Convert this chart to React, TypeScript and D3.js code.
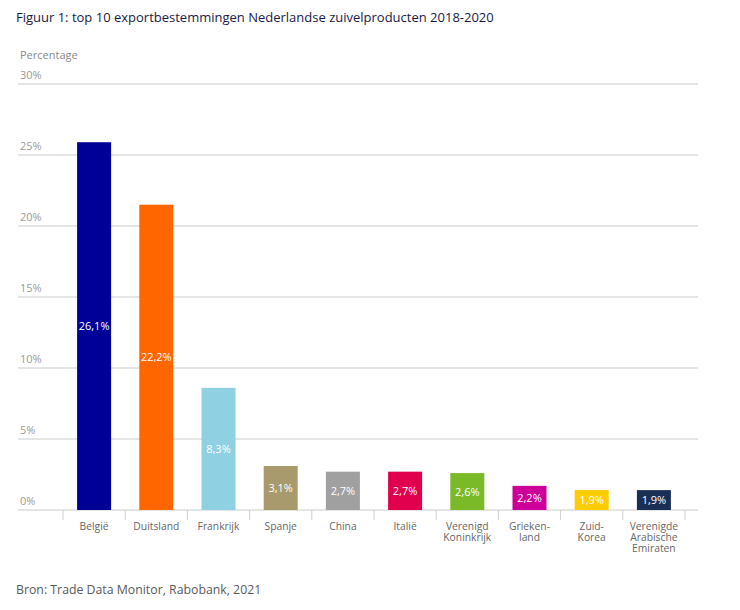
import React from "react";
import * as d3 from "d3";

const categories: string[][] = [
  ["België"],
  ["Duitsland"],
  ["Frankrijk"],
  ["Spanje"],
  ["China"],
  ["Italië"],
  ["Verenigd", "Koninkrijk"],
  ["Grieken-", "land"],
  ["Zuid-", "Korea"],
  ["Verenigde", "Arabische", "Emiraten"],
];
// bar heights as drawn in the picture (percent)
const barValues = [25.9, 21.5, 8.6, 3.1, 2.7, 2.7, 2.6, 1.7, 1.4, 1.4];
// printed value labels
const valueLabels = ["26,1%", "22,2%", "8,3%", "3,1%", "2,7%", "2,7%", "2,6%", "2,2%", "1,9%", "1,9%"];
const colors = ["#000096", "#ff6600", "#8fd0e2", "#a89a6c", "#a0a0a0", "#e0004d", "#7aba28", "#cc0099", "#ffcc00", "#1b2f56"];
const yTicks = [0, 5, 10, 15, 20, 25, 30];

const FONT = "'Open Sans', 'Noto Sans', sans-serif";

export default function App() {
  const W = 740, H = 610;
  const gridX0 = 18, gridX1 = 698;
  const y = d3.scaleLinear().domain([0, 30]).range([510, 84]);
  const x = d3.scaleBand<number>().domain(d3.range(categories.length)).range([63, 685]).paddingInner(0).paddingOuter(0);
  const barW = 34;

  return (
    <div style={{ position: "absolute", left: 0, top: 0 }}>
      <svg width={W} height={H} style={{ display: "block", background: "#fff" }}>
        <text x={16} y={22} fontFamily={FONT} fontSize={13} fill="#1a1a46">
          Figuur 1: top 10 exportbestemmingen Nederlandse zuivelproducten 2018-2020
        </text>
        <text x={20} y={59} fontFamily={FONT} fontSize={11} fill="#8a8a8a">Percentage</text>
        {yTicks.map((t) => (
          <g key={t}>
            <line x1={gridX0} x2={gridX1} y1={y(t)} y2={y(t)} stroke="#dcdcdc" strokeWidth={1.3} />
            <text x={20} y={y(t) - 5} fontFamily={FONT} fontSize={11} fill="#9a9a9a">{t}%</text>
          </g>
        ))}
        {d3.range(categories.length + 1).map((i) => {
          const xx = i < categories.length ? x(i)! : x(categories.length - 1)! + x.bandwidth();
          return <line key={"t" + i} x1={xx} x2={xx} y1={y(0)} y2={y(0) + 10} stroke="#d0d0d0" strokeWidth={1} />;
        })}
        {barValues.map((v, i) => {
          const cx = x(i)! + x.bandwidth() / 2;
          const top = y(v);
          return (
            <g key={"b" + i}>
              <rect x={cx - barW / 2} y={top} width={barW} height={y(0) - top} fill={colors[i]} />
              <text x={cx} y={(top + y(0)) / 2 + 4} textAnchor="middle" fontFamily={FONT} fontSize={11} fill="#fff">
                {valueLabels[i]}
              </text>
              <text x={cx} y={530} textAnchor="middle" fontFamily={FONT} fontSize={10.3} fill="#666">
                {categories[i].map((line, j) => (
                  <tspan key={j} x={cx} dy={j === 0 ? 0 : 10.8}>{line}</tspan>
                ))}
              </text>
            </g>
          );
        })}
        <text x={16} y={594} fontFamily={FONT} fontSize={12.3} fill="#5a5a5a">Bron: Trade Data Monitor, Rabobank, 2021</text>
      </svg>
    </div>
  );
}
